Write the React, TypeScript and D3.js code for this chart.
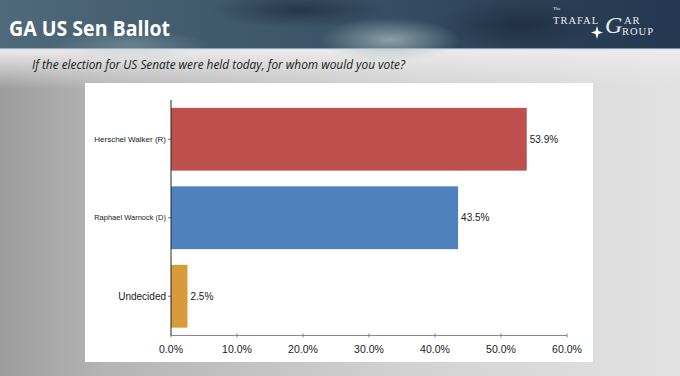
import React from "react";
import * as d3 from "d3";

const categories = ["Herschel Walker (R)", "Raphael Warnock (D)", "Undecided"];
const values = [53.9, 43.5, 2.5];
const valueLabels = ["53.9%", "43.5%", "2.5%"];
const barColors = ["#c0504d", "#4f81bd", "#d99a3a"];
const labelSizes = [8, 7.5, 10];
const xTicks = [0, 10, 20, 30, 40, 50, 60];

const W = 680;
const H = 376;

export default function App() {
  const x = d3.scaleLinear().domain([0, 60]).range([171, 567]);
  const y = d3.scaleBand<string>().domain(categories).range([100, 335.5]).paddingInner(0.2).paddingOuter(0.1);
  const fmt = (v: number) => v.toFixed(1) + "%";
  return (
    <svg width={W} height={H} style={{ position: "absolute", left: 0, top: 0 }} fontFamily="Liberation Sans, Arial, sans-serif">
      <defs>
        <linearGradient id="bg" x1="0" y1="0" x2="1" y2="0">
          <stop offset="0" stopColor="#9d9d9d" />
          <stop offset="0.15" stopColor="#b4b4b4" />
          <stop offset="0.6" stopColor="#d2d2d2" />
          <stop offset="1" stopColor="#e2e2e2" />
        </linearGradient>
        <linearGradient id="band" x1="0" y1="0" x2="0" y2="1">
          <stop offset="0" stopColor="#ececec" stopOpacity="1" />
          <stop offset="1" stopColor="#e6e6e6" stopOpacity="0" />
        </linearGradient>
        <linearGradient id="sky" x1="0" y1="0" x2="1" y2="0">
          <stop offset="0" stopColor="#4f6a7a" />
          <stop offset="0.25" stopColor="#435d70" />
          <stop offset="0.5" stopColor="#3a5368" />
          <stop offset="0.75" stopColor="#2c4158" />
          <stop offset="1" stopColor="#243750" />
        </linearGradient>
        <radialGradient id="glow1" cx="0.5" cy="0.5" r="0.5">
          <stop offset="0" stopColor="#9fb5b8" stopOpacity="0.8" />
          <stop offset="1" stopColor="#9fb5b8" stopOpacity="0" />
        </radialGradient>
        <radialGradient id="glow2" cx="0.5" cy="0.5" r="0.5">
          <stop offset="0" stopColor="#1c2a3c" stopOpacity="0.7" />
          <stop offset="1" stopColor="#1c2a3c" stopOpacity="0" />
        </radialGradient>
      </defs>
      <rect x={0} y={0} width={W} height={H} fill="url(#bg)" />
      <rect x={0} y={49} width={W} height={40} fill="url(#band)" />
      <rect x={0} y={0} width={W} height={49} fill="url(#sky)" />
      <ellipse cx={390} cy={40} rx={70} ry={22} fill="url(#glow1)" />
      <ellipse cx={130} cy={45} rx={80} ry={15} fill="url(#glow1)" opacity={0.5} />
      <ellipse cx={300} cy={10} rx={90} ry={18} fill="url(#glow2)" />
      <ellipse cx={520} cy={25} rx={80} ry={25} fill="url(#glow2)" />
      <rect x={0} y={48} width={W} height={1.5} fill="#c9d3d8" opacity={0.6} />
      <text x={9} y={36} fill="#ffffff" fontFamily="Open Sans, sans-serif" fontWeight="bold" fontSize={22} textLength={161} lengthAdjust="spacingAndGlyphs">GA US Sen Ballot</text>
      <g fill="#e8ecef" fontFamily="Liberation Serif, serif">
        <text x={553} y={10} fontSize={5}>The</text>
        <text x={553} y={24} fontSize={10.5} letterSpacing={1}>TRAFAL</text>
        <text x={605} y={33} fontSize={24} fontStyle="italic">G</text>
        <text x={624} y={24} fontSize={10.5} letterSpacing={1}>AR</text>
        <text x={622} y={35} fontSize={10.5} letterSpacing={1}>ROUP</text>
        <path d="M597,26 L598.5,31 L603,32.5 L598.5,34 L597,39 L595.5,34 L591,32.5 L595.5,31 Z" fill="#ffffff" />
      </g>
      <text x={32} y={69} fill="#1a1a1a" fontFamily="Open Sans, sans-serif" fontStyle="italic" fontSize={12.5} textLength={373} lengthAdjust="spacingAndGlyphs">If the election for US Senate were held today, for whom would you vote?</text>
      <rect x={85} y={83} width={508} height={279} fill="#ffffff" />
      {categories.map((c, i) => (
        <g key={c}>
          <rect x={x(0)} y={y(c)!} width={x(values[i]) - x(0)} height={y.bandwidth()} fill={barColors[i]} />
          <text x={x(values[i]) + 3} y={y(c)! + y.bandwidth() / 2} dy="0.35em" fontSize={10} fill="#1a1a1a">{valueLabels[i]}</text>
          <line x1={x(0) - 3} x2={x(0)} y1={y(c)! + y.bandwidth() / 2} y2={y(c)! + y.bandwidth() / 2} stroke="#555" strokeWidth={0.8} />
          <text x={x(0) - 5} y={y(c)! + y.bandwidth() / 2} dy="0.35em" textAnchor="end" fontSize={labelSizes[i]} fill="#1a1a1a">{c}</text>
        </g>
      ))}
      <line x1={x(0)} x2={x(0)} y1={100} y2={335.5} stroke="#222" strokeWidth={1} />
      <line x1={x(0)} x2={x(60)} y1={335.5} y2={335.5} stroke="#888" strokeWidth={1} />
      {xTicks.map((t) => (
        <g key={t}>
          <line x1={x(t)} x2={x(t)} y1={333.5} y2={337.5} stroke="#666" strokeWidth={0.8} />
          <text x={x(t)} y={353} textAnchor="middle" fontSize={10.5} fill="#1a1a1a">{fmt(t)}</text>
        </g>
      ))}
    </svg>
  );
}
